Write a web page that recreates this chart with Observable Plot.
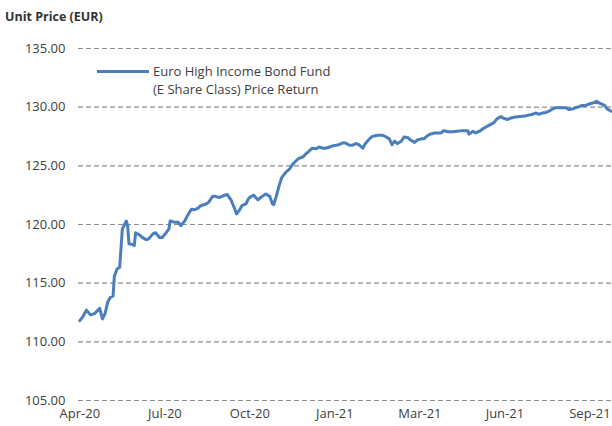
<!DOCTYPE html>
<html>
<head>
<meta charset="utf-8">
<script src="https://cdn.jsdelivr.net/npm/d3@7"></script>
<script src="https://cdn.jsdelivr.net/npm/@observablehq/plot@0.6"></script>
<style>
  html, body { margin: 0; padding: 0; background: #fff; }
  #wrap { position: relative; width: 612px; height: 426px; font-family: "Open Sans", sans-serif; }
  #title { position: absolute; left: 5px; top: 8px; font-size: 12.5px; font-weight: bold; color: #333; }
  #legend { position: absolute; left: 97px; top: 62px; font-size: 13px; color: #404040; line-height: 18px; display: flex; align-items: flex-start; }
  #legend .sw { width: 52px; height: 3px; background: #4a7ebf; margin-top: 8px; margin-right: 4px; }
</style>
</head>
<body>
<div id="wrap">
  <div id="chart"></div>
  <div id="title">Unit Price (EUR)</div>
  <div id="legend"><div class="sw"></div><div>Euro High Income Bond Fund<br>(E Share Class) Price Return</div></div>
</div>
<script>
// trading-day index since start of April 2020
const days = [0,2,5,8,11,15,17,19,21,23,25,26,28,30,32,35,36,37,40,41,42,45,47,50,52,55,57,60,62,65,67,68,71,74,76,79,81,84,86,89,91,95,97,100,102,105,109,111,114,116,118,120,122,125,127,129,131,134,136,140,143,145,146,148,150,152,155,158,160,163,165,168,170,173,175,178,180,183,185,188,190,193,195,198,200,203,205,208,210,213,215,218,220,224,228,230,233,235,237,239,242,244,247,249,252,254,257,259,262,264,267,269,272,274,277,281,284,288,292,293,296,298,301,304,308,312,314,317,319,322,324,327,331,335,337,341,343,346,348,351,353,356,358,363,366,368,371,373,376,378,381,383,386,389,391,392,395,397,400];
const prices = [111.8,112.1,112.7,112.3,112.4,112.85,111.95,112.4,113.4,113.8,113.9,115.6,116.2,116.35,119.6,120.3,119.9,118.35,118.3,118.2,119.3,119.1,118.9,118.7,118.8,119.2,119.3,118.9,118.9,119.3,119.6,120.3,120.2,120.2,119.9,120.3,120.75,121.3,121.25,121.4,121.6,121.75,121.9,122.4,122.4,122.3,122.5,122.55,122.05,121.5,120.9,121.2,121.6,121.75,122.2,122.4,122.5,122.1,122.3,122.6,122.4,121.75,121.7,122.45,123.3,124.0,124.45,124.75,125.1,125.45,125.65,125.75,126.0,126.3,126.5,126.45,126.6,126.5,126.5,126.6,126.7,126.75,126.8,126.95,126.95,126.75,126.75,126.9,126.8,126.5,126.9,127.3,127.5,127.6,127.6,127.5,127.3,126.8,127.1,126.9,127.1,127.45,127.4,127.2,127.0,127.2,127.3,127.3,127.6,127.7,127.8,127.8,127.8,128.0,127.9,127.9,127.95,128.0,128.0,127.7,127.95,127.8,127.95,128.2,128.45,128.7,129.0,129.2,129.05,128.95,129.05,129.15,129.2,129.25,129.3,129.4,129.5,129.4,129.5,129.55,129.65,129.85,129.95,129.95,129.95,129.8,129.85,129.95,130.05,130.15,130.15,130.25,130.35,130.5,130.35,130.3,130.15,129.85,129.65];
const tickDays = [0,64,128,192,256,320,384];
const tickLabels = ["Apr-20","Jul-20","Oct-20","Jan-21","Mar-21","Jun-21","Sep-21"];
const yTicks = [105,110,115,120,125,130,135];

const data = days.map((d, i) => ({day: d, price: prices[i]}));

const chart = Plot.plot({
  width: 612,
  height: 426,
  marginLeft: 78,
  marginRight: 0,
  marginTop: 48,
  marginBottom: 26,
  style: {fontFamily: "Open Sans, sans-serif", fontSize: "13px", color: "#404040", background: "#fff"},
  x: {type: "linear", domain: [-1, 401]},
  y: {domain: [105, 135]},
  marks: [
    Plot.ruleY(yTicks, {stroke: "#8c8c8c", strokeWidth: 1.2, strokeDasharray: "5,3"}),
    Plot.axisY({ticks: yTicks, tickSize: 0, tickPadding: 13, tickFormat: d => d.toFixed(2), label: null, fill: "#404040"}),
    Plot.axisX({ticks: tickDays, tickSize: 0, tickPadding: 8, tickFormat: (d) => tickLabels[tickDays.indexOf(d)], label: null, fill: "#404040"}),
    Plot.line(data, {x: "day", y: "price", stroke: "#4a7ebf", strokeWidth: 3, strokeLinejoin: "round", curve: "linear"})
  ]
});
document.getElementById("chart").appendChild(chart);
</script>
</body>
</html>
